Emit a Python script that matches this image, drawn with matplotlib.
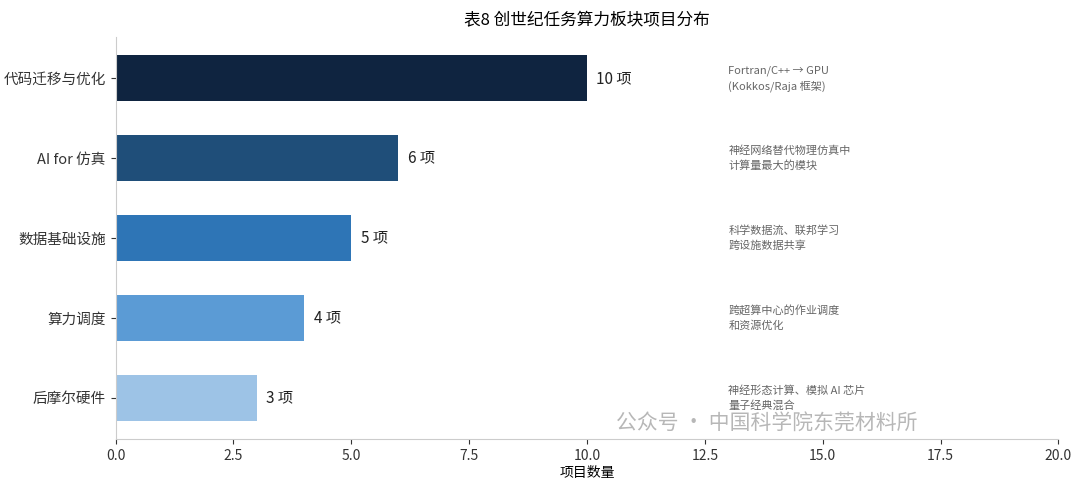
import matplotlib.pyplot as plt

plt.rcParams['font.family'] = ['Noto Sans CJK SC', 'DejaVu Sans']

categories = ['代码迁移与优化', 'AI for 仿真', '数据基础设施', '算力调度', '后摩尔硬件']
counts = [10, 6, 5, 4, 3]
notes = ['Fortran/C++ → GPU\n(Kokkos/Raja 框架)',
         '神经网络替代物理仿真中\n计算量最大的模块',
         '科学数据流、联邦学习\n跨设施数据共享',
         '跨超算中心的作业调度\n和资源优化',
         '神经形态计算、模拟 AI 芯片\n量子经典混合']
colors = ['#0f2440', '#1f4e79', '#2e75b6', '#5b9bd5', '#9dc3e6']

fig = plt.figure(figsize=(10.8, 4.91), dpi=100)
ax = fig.add_axes([0.107, 0.105, 0.873, 0.82])
y = list(range(len(categories)))
ax.barh(y, counts, color=colors, height=0.58)
ax.invert_yaxis()
ax.set_yticks(y)
ax.set_yticklabels(categories, fontsize=10.5)
ax.set_xlim(0, 20)
ax.set_xticks([0, 2.5, 5, 7.5, 10, 12.5, 15, 17.5, 20])
ax.set_xticklabels(['0.0', '2.5', '5.0', '7.5', '10.0', '12.5', '15.0', '17.5', '20.0'], fontsize=10)
ax.set_xlabel('项目数量', fontsize=10, labelpad=2)
ax.set_title('表8 创世纪任务算力板块项目分布', fontsize=12, pad=8)
for s in ['top', 'right']:
    ax.spines[s].set_visible(False)
for s in ['left', 'bottom']:
    ax.spines[s].set_color('#cccccc')
ax.tick_params(colors='#333333')

for i, (c, n) in enumerate(zip(counts, notes)):
    ax.text(c + 0.2, i, f'{c} 项', va='center', fontsize=11, color='#222222')
    ax.text(13.0, i, n, va='center', fontsize=8, color='#666666', linespacing=1.5)

fig.text(0.57, 0.125, '公众号 · 中国科学院东莞材料所', fontsize=15, color='#999999', alpha=0.7)

fig.savefig('out.png', dpi=100)
